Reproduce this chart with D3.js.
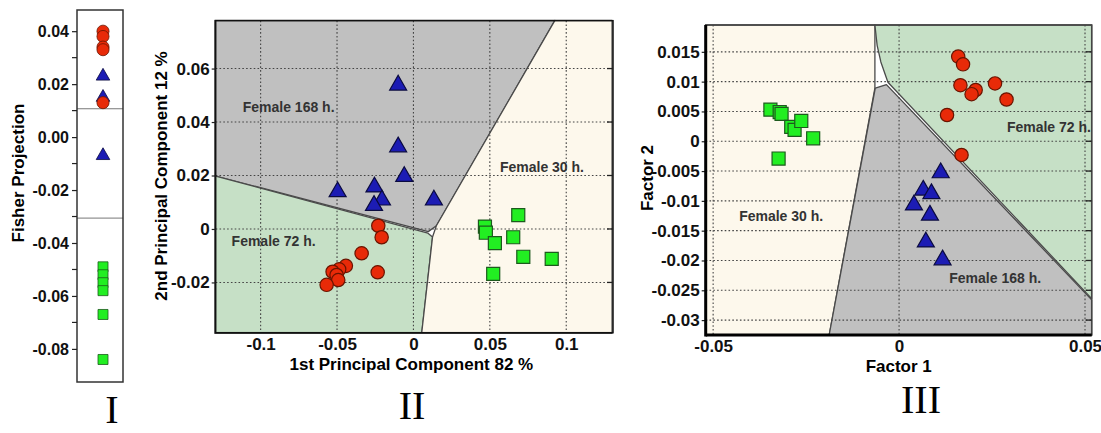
<!DOCTYPE html>
<html>
<head>
<meta charset="utf-8">
<script src="https://cdn.jsdelivr.net/npm/d3@7"></script>
<style>
body{margin:0;background:#fff;}
svg{display:block;font-family:"Liberation Sans",Arial,sans-serif;}
</style>
</head>
<body>
<svg id="chart" width="1101" height="433"></svg>
<script>
// ---- panel I : fisher projection (one value per sample)
const fisher_72 = [0.040, 0.038, 0.034, 0.033, 0.013];
const fisher_168 = [0.023, 0.015, -0.007];
const fisher_30 = [-0.049, -0.052, -0.055, -0.058, -0.067, -0.084];
const fisher_cuts = [0.0107, -0.0306];
const fisher_ticks = [0.04, 0.02, 0, -0.02, -0.04, -0.06, -0.08];
const fisher_tick_labels = ["0.04", "0.02", "0.00", "-0.02", "-0.04", "-0.06", "-0.08"];
const fisher_minor = [0.03, 0.01, -0.01, -0.03, -0.05, -0.07];

// ---- panel II : PCA scores [pc1, pc2]
const pca_168 = [[-0.0100,0.0538],[-0.0100,0.0307],[-0.0060,0.0196],[-0.0496,0.0139],[-0.0255,0.0157],
                 [-0.0206,0.0108],[-0.0258,0.0088],[0.0134,0.0108]];
const pca_72 = [[-0.0230,0.0012],[-0.0208,-0.0031],[-0.0339,-0.0091],[-0.0442,-0.0138],[-0.0486,-0.0151],
                [-0.0529,-0.0160],[-0.0503,-0.0172],[-0.0492,-0.0191],[-0.0568,-0.0209],[-0.0234,-0.0162]];
const pca_30 = [[0.0686,0.0052],[0.0468,0.0009],[0.0474,-0.0014],[0.0533,-0.0053],[0.0653,-0.0031],
                [0.0719,-0.0104],[0.0905,-0.0112],[0.0522,-0.0168]];
// class regions (data coords)
const pca_zone_168 = [[-0.13,0.078],[0.0926,0.078],[0.0150,0.0012],[0.0097,-0.0010],[-0.13,0.0199]];
const pca_zone_72 = [[-0.13,0.0199],[0.0095,-0.0016],[0.0125,-0.0030],[0.0054,-0.039],[-0.13,-0.039]];
const pca_zone_30 = [[0.0926,0.078],[0.13,0.078],[0.13,-0.039],[0.0054,-0.039],[0.0125,-0.0030],[0.0150,0.0012]];
const pca_x_ticks = [-0.1, -0.05, 0, 0.05, 0.1];
const pca_x_labels = ["-0.1", "-0.05", "0", "0.05", "0.1"];
const pca_y_ticks = [-0.02, 0, 0.02, 0.04, 0.06];
const pca_y_labels = ["-0.02", "0", "0.02", "0.04", "0.06"];
const pca_names = [["Female 168 h.", -0.1117, 0.0456], ["Female 30 h.", 0.0566, 0.0233], ["Female 72 h.", -0.119, -0.0047]];

// ---- panel III : factor scores [f1, f2]
const fa_30 = [[-0.0346,0.0053],[-0.0321,0.0049],[-0.0316,0.0046],[-0.0290,0.0024],[-0.0281,0.0019],
               [-0.0263,0.0034],[-0.0231,0.0005],[-0.0324,-0.0029]];
const fa_72 = [[0.0159,0.0142],[0.0172,0.0129],[0.0165,0.0094],[0.0206,0.0086],[0.0195,0.0079],
               [0.0258,0.0097],[0.0289,0.0070],[0.0129,0.0044],[0.0168,-0.0023]];
const fa_168 = [[0.0112,-0.0053],[0.0065,-0.0082],[0.0087,-0.0088],[0.0040,-0.0107],[0.0083,-0.0124],
                [0.0072,-0.0169],[0.0117,-0.0199]];
const fa_zone_30 = [[-0.052,0.0195],[-0.0065,0.0195],[-0.0065,0.0089],[-0.0188,-0.0325],[-0.052,-0.0325]];
const fa_zone_72 = [[-0.0065,0.0195],[0.0518,0.0195],[0.0518,-0.0264],[-0.0030,0.0099],[-0.0049,0.0133],[-0.0059,0.0161]];
const fa_zone_168 = [[-0.0064,0.0089],[-0.0034,0.0095],[0.0518,-0.0266],[0.0518,-0.0325],[-0.0188,-0.0325]];
const fa_x_ticks = [-0.05, 0, 0.05];
const fa_x_labels = ["-0.05", "0", "0.05"];
const fa_y_ticks = [0.015, 0.01, 0.005, 0, -0.005, -0.01, -0.015, -0.02, -0.025, -0.03];
const fa_y_labels = ["0.015", "0.01", "0.005", "0", "-0.005", "-0.01", "-0.015", "-0.02", "-0.025", "-0.03"];
const fa_names = [["Female 72 h.", 0.0290, 0.0023], ["Female 30 h.", -0.0430, -0.0126], ["Female 168 h.", 0.0135, -0.0229]];

const roman = [["I", 112, 423], ["II", 412, 419], ["III", 921, 413]];

const col_red = "#e82a08", col_red_line = "#6a1400";
const col_blue = "#1c1cb4", col_blue_line = "#0a0a40";
const col_green = "#22ee22", col_green_line = "#1d5a1d";
const zone_grey = "#c0c0c0", zone_green = "#c6e0c6", zone_beige = "#fdf8ec";

const svg = d3.select("#chart");
svg.append("rect").attr("width", 1101).attr("height", 433).attr("fill", "#fff");

function drawMarkers(g, pts, kind, sx, sy, size) {
    let sym = kind === "circle" ? d3.symbolCircle : kind === "square" ? d3.symbolSquare : d3.symbolTriangle;
    let fill = kind === "circle" ? col_red : kind === "square" ? col_green : col_blue;
    let line = kind === "circle" ? col_red_line : kind === "square" ? col_green_line : col_blue_line;
    g.selectAll(null)
        .data(pts)
        .join("path")
        .attr("d", d3.symbol(sym, size))
        .attr("transform", d => `translate(${sx(d)},${sy(d)})`)
        .attr("fill", fill)
        .attr("stroke", line)
        .attr("stroke-width", 1.2);
}

function styleAxis(ax, size) {
    ax.select(".domain").remove();
    ax.selectAll(".tick line").attr("stroke", "#222").attr("stroke-width", 1.2);
    ax.selectAll(".tick text").attr("font-size", size).attr("font-weight", "bold").attr("fill", "#111")
        .attr("font-family", "'Liberation Sans', Arial, sans-serif");
}

function drawFisher() {
    let x0 = 77, x1 = 123;
    let fy = d3.scaleLinear().domain([-0.0925, 0.048]).range([382, 10]);
    let g = svg.append("g");
    g.selectAll(".cut")
        .data(fisher_cuts)
        .join("line")
        .attr("x1", x0).attr("x2", x1)
        .attr("y1", d => fy(d)).attr("y2", d => fy(d))
        .attr("stroke", "#777").attr("stroke-width", 1);

    drawMarkers(g, fisher_168, "triangle", d => 103, d => fy(d), 80);
    drawMarkers(g, fisher_72, "circle", d => 103, d => fy(d), 115);
    drawMarkers(g, fisher_30, "square", d => 103, d => fy(d), 100);
    g.selectAll("path").attr("stroke-width", 0.8);

    g.append("rect").attr("x", x0).attr("y", 10).attr("width", x1 - x0).attr("height", 372)
        .attr("fill", "none").attr("stroke", "#333").attr("stroke-width", 1.5);

    let ax = g.append("g").attr("transform", `translate(${x0},0)`)
        .call(d3.axisLeft(fy).tickValues(fisher_ticks).tickSize(5).tickPadding(3)
            .tickFormat((d, i) => fisher_tick_labels[i]));
    styleAxis(ax, 16);
    g.selectAll(".minor")
        .data(fisher_minor)
        .join("line")
        .attr("x1", x0 - 5).attr("x2", x0)
        .attr("y1", d => fy(d)).attr("y2", d => fy(d))
        .attr("stroke", "#222").attr("stroke-width", 1.2);

    g.append("text")
        .attr("transform", "translate(24,173) rotate(-90)")
        .attr("text-anchor", "middle")
        .attr("font-size", 17).attr("font-weight", "bold")
        .text("Fisher Projection");
}

function drawScatter(opt) {
    let sx = d3.scaleLinear().domain(opt.xd).range([opt.left, opt.right]);
    let sy = d3.scaleLinear().domain(opt.yd).range([opt.bottom, opt.top]);
    let g = svg.append("g");
    let line = d3.line().x(d => sx(d[0])).y(d => sy(d[1]));

    g.selectAll(".zone")
        .data(opt.zones)
        .join("path")
        .attr("d", d => line(d[0]) + "Z")
        .attr("fill", d => d[1])
        .attr("stroke", "#4a4a4a")
        .attr("stroke-width", 1.3)
        .attr("stroke-linejoin", "round");

    // dotted grid
    g.selectAll(".vgrid")
        .data(opt.xt)
        .join("line")
        .attr("x1", d => sx(d)).attr("x2", d => sx(d))
        .attr("y1", opt.top).attr("y2", opt.bottom)
        .attr("stroke", "#444").attr("stroke-width", 1.1).attr("stroke-dasharray", "1.6,2.2");
    g.selectAll(".hgrid")
        .data(opt.yt)
        .join("line")
        .attr("x1", opt.left).attr("x2", opt.right)
        .attr("y1", d => sy(d)).attr("y2", d => sy(d))
        .attr("stroke", "#444").attr("stroke-width", 1.1).attr("stroke-dasharray", "1.6,2.2");

    g.selectAll(".zname")
        .data(opt.names)
        .join("text")
        .attr("x", d => sx(d[1]))
        .attr("y", d => sy(d[2]))
        .attr("dy", "0.35em")
        .attr("font-size", 14)
        .attr("font-weight", "bold")
        .attr("fill", "#333")
        .text(d => d[0]);

    opt.groups.forEach(grp => {
        drawMarkers(g, grp[0], grp[1], d => sx(d[0]), d => sy(d[1]), grp[2]);
    });

    g.append("rect")
        .attr("x", opt.left).attr("y", opt.top)
        .attr("width", opt.right - opt.left).attr("height", opt.bottom - opt.top)
        .attr("fill", "none").attr("stroke", opt.frame).attr("stroke-width", 1.5);

    // inner ticks on the right side
    g.selectAll(".rt")
        .data(opt.yt)
        .join("line")
        .attr("x1", opt.right - 6).attr("x2", opt.right)
        .attr("y1", d => sy(d)).attr("y2", d => sy(d))
        .attr("stroke", "#222").attr("stroke-width", 1.3);

    let ay = g.append("g").attr("transform", `translate(${opt.left},0)`)
        .call(d3.axisLeft(sy).tickValues(opt.yt).tickSize(4).tickPadding(2)
            .tickFormat((d, i) => opt.yl[i]));
    styleAxis(ay, 17);
    let axx = g.append("g").attr("transform", `translate(0,${opt.bottom})`)
        .call(d3.axisBottom(sx).tickValues(opt.xt).tickSize(0).tickPadding(5)
            .tickFormat((d, i) => opt.xl[i]));
    styleAxis(axx, 17);

    if (opt.thick) {
        g.append("line").attr("x1", opt.left).attr("x2", opt.left).attr("y1", opt.top).attr("y2", opt.bottom + 1.5)
            .attr("stroke", "#000").attr("stroke-width", 3);
        g.append("line").attr("x1", opt.left).attr("x2", opt.right).attr("y1", opt.bottom).attr("y2", opt.bottom)
            .attr("stroke", "#000").attr("stroke-width", 3);
    }

    g.append("text")
        .attr("x", (opt.left + opt.right) / 2 + opt.xlabDx)
        .attr("y", opt.xlabY)
        .attr("text-anchor", "middle")
        .attr("font-size", 17).attr("font-weight", "bold")
        .text(opt.xlab);
    g.append("text")
        .attr("transform", `translate(${opt.ylabX},${opt.ylabY}) rotate(-90)`)
        .attr("text-anchor", "middle")
        .attr("font-size", 17).attr("font-weight", "bold")
        .text(opt.ylab);
}

drawFisher();

drawScatter({
    xd: [-0.1294, 0.1306], yd: [-0.0388, 0.0779],
    left: 215.7, right: 613, top: 20.7, bottom: 332.7,
    zones: [[pca_zone_168, zone_grey], [pca_zone_72, zone_green], [pca_zone_30, zone_beige]],
    xt: pca_x_ticks, xl: pca_x_labels, yt: pca_y_ticks, yl: pca_y_labels,
    names: pca_names,
    groups: [[pca_168, "triangle", 125], [pca_72, "circle", 140], [pca_30, "square", 170]],
    frame: "#111", thick: false,
    xlab: "1st Principal Component  82 %", xlabDx: -3, xlabY: 370,
    ylab: "2nd Principal Component  12 %", ylabX: 167, ylabY: 176
});

drawScatter({
    xd: [-0.052, 0.0518], yd: [-0.0325, 0.0195],
    left: 705.7, right: 1091.7, top: 25, bottom: 335,
    zones: [[fa_zone_30, zone_beige], [fa_zone_72, zone_green], [fa_zone_168, zone_grey]],
    xt: fa_x_ticks, xl: fa_x_labels, yt: fa_y_ticks, yl: fa_y_labels,
    names: fa_names,
    groups: [[fa_30, "square", 170], [fa_168, "triangle", 125], [fa_72, "circle", 140]],
    frame: "#444", thick: true,
    xlab: "Factor 1", xlabDx: 0, xlabY: 372,
    ylab: "Factor 2", ylabX: 653, ylabY: 178
});

svg.selectAll(".roman")
    .data(roman)
    .join("text")
    .attr("x", d => d[1])
    .attr("y", d => d[2])
    .attr("text-anchor", "middle")
    .attr("font-family", "'Liberation Serif', 'DejaVu Serif', serif")
    .attr("font-size", 40)
    .text(d => d[0]);
</script>
</body>
</html>
